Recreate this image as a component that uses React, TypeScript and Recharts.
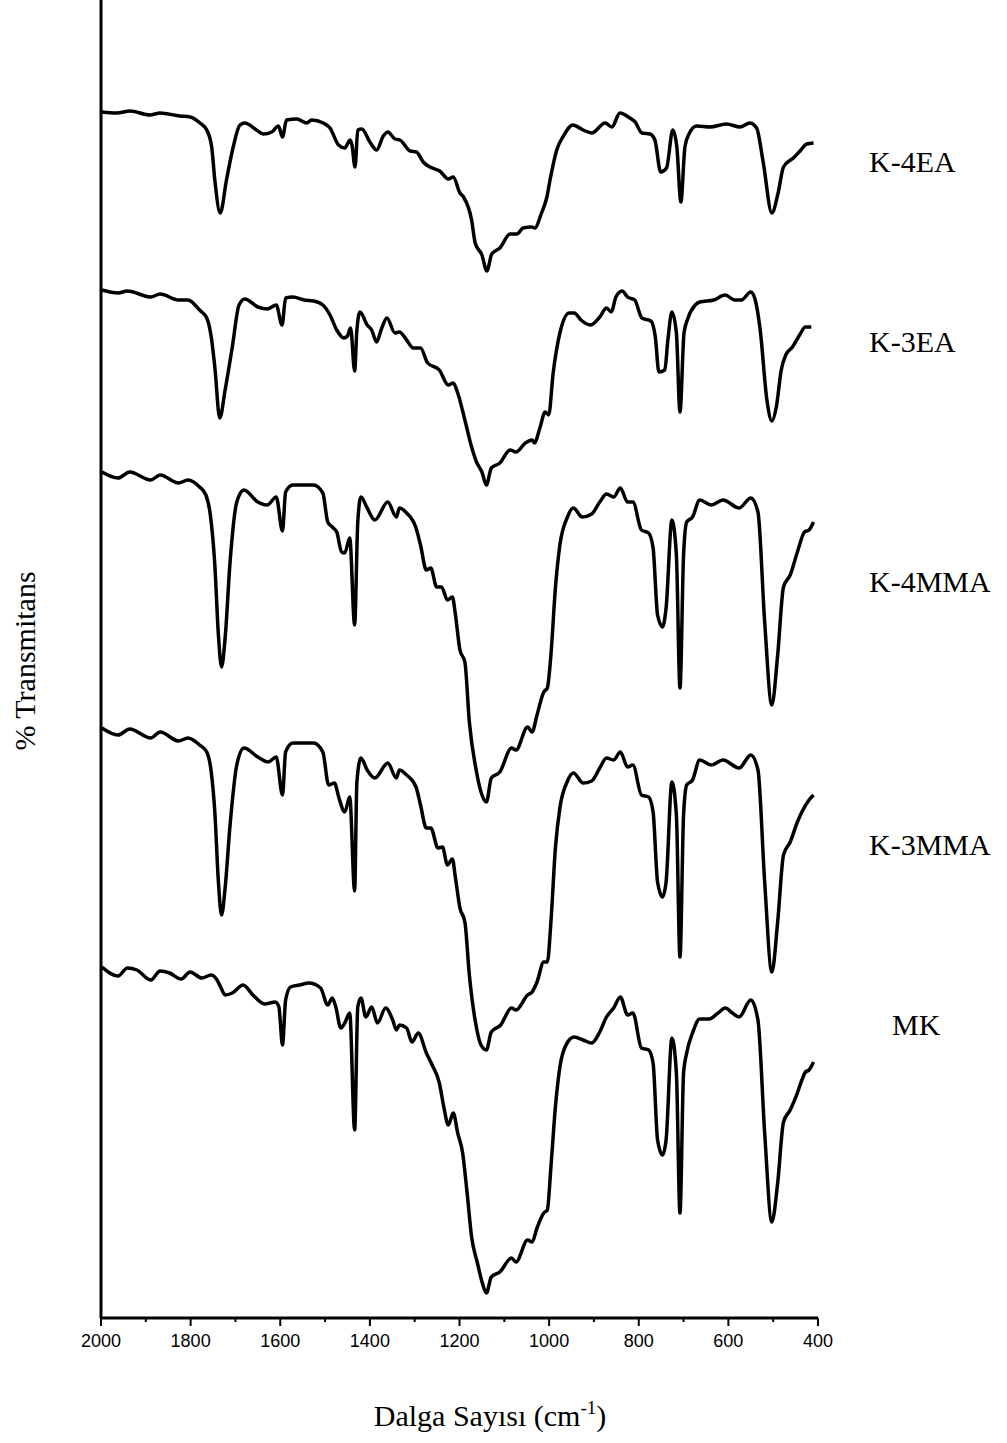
import React from 'react';
import { LineChart, Line, XAxis, YAxis } from 'recharts';

// wavenumber (cm-1) tick marks
const xTicks = [2000, 1900, 1800, 1700, 1600, 1500, 1400, 1300, 1200, 1100, 1000, 900, 800, 700, 600, 500, 400];

// [wavenumber, stacked %T (arbitrary offset units)]
const k4ea: [number, number][] = [
  [1998, 1206], [1965, 1205], [1935, 1207], [1891, 1203], [1868, 1205], [1824, 1202], [1801, 1201], [1779, 1195],
  [1764, 1188], [1753, 1171], [1746, 1138], [1734, 1105], [1720, 1138], [1705, 1171], [1690, 1193], [1679, 1195],
  [1653, 1188], [1638, 1184], [1619, 1186], [1604, 1192], [1595, 1181], [1586, 1198], [1563, 1199], [1541, 1195],
  [1530, 1198], [1504, 1195], [1489, 1190], [1470, 1173], [1456, 1170], [1444, 1178], [1440, 1173], [1433, 1151],
  [1427, 1188], [1418, 1189], [1400, 1176], [1385, 1168], [1370, 1182], [1360, 1186], [1344, 1179], [1333, 1178],
  [1310, 1167], [1296, 1166], [1281, 1156], [1266, 1151], [1244, 1147], [1225, 1139], [1214, 1141], [1199, 1125],
  [1191, 1121], [1173, 1098], [1165, 1075], [1150, 1063], [1139, 1047], [1128, 1064], [1110, 1070], [1087, 1084],
  [1072, 1084], [1058, 1090], [1039, 1091], [1032, 1090], [1017, 1105], [1005, 1121], [998, 1138], [983, 1168],
  [968, 1182], [947, 1193], [924, 1188], [905, 1185], [875, 1195], [860, 1191], [842, 1205], [820, 1200],
  [808, 1196], [793, 1185], [775, 1184], [764, 1178], [751, 1146], [738, 1150], [724, 1188], [715, 1171],
  [706, 1116], [697, 1171], [689, 1183], [671, 1192], [641, 1191], [604, 1194], [574, 1191], [552, 1195],
  [537, 1190], [522, 1155], [503, 1105], [489, 1125], [477, 1151], [455, 1160], [440, 1167], [425, 1174], [410, 1175],
];

const k3ea: [number, number][] = [
  [1998, 1028], [1962, 1025], [1941, 1027], [1889, 1021], [1868, 1024], [1827, 1018], [1806, 1018], [1780, 1008],
  [1764, 1000], [1754, 981], [1746, 951], [1735, 900], [1723, 928], [1707, 971], [1692, 1013], [1679, 1019],
  [1650, 1011], [1629, 1009], [1609, 1013], [1596, 993], [1588, 1020], [1572, 1021], [1546, 1018], [1526, 1017],
  [1505, 1013], [1489, 1003], [1474, 988], [1458, 980], [1450, 982], [1443, 990], [1434, 947], [1429, 988],
  [1422, 1006], [1406, 993], [1396, 988], [1385, 976], [1375, 988], [1362, 1000], [1344, 985], [1334, 986],
  [1318, 978], [1303, 970], [1287, 970], [1271, 955], [1245, 948], [1225, 933], [1214, 935], [1204, 925],
  [1188, 898], [1173, 871], [1162, 856], [1150, 846], [1140, 833], [1129, 850], [1110, 855], [1087, 868],
  [1074, 866], [1053, 875], [1038, 878], [1033, 875], [1020, 891], [1009, 906], [1001, 903], [991, 945],
  [976, 985], [955, 1005], [944, 1005], [929, 998], [908, 993], [887, 1001], [872, 1010], [861, 1006],
  [851, 1021], [837, 1027], [825, 1021], [809, 1018], [793, 1000], [773, 997], [763, 981], [755, 946],
  [742, 948], [735, 978], [726, 1006], [716, 985], [708, 906], [699, 985], [690, 1000], [674, 1013],
  [664, 1016], [633, 1018], [607, 1023], [586, 1018], [571, 1018], [550, 1026], [540, 1018], [529, 988],
  [514, 918], [503, 897], [493, 911], [482, 948], [472, 963], [457, 971], [441, 983], [428, 991], [415, 991],
];

const k4mma: [number, number][] = [
  [1998, 846], [1962, 840], [1936, 846], [1889, 838], [1868, 843], [1827, 835], [1806, 838], [1780, 831],
  [1766, 823], [1756, 803], [1746, 753], [1738, 683], [1731, 651], [1723, 680], [1712, 756], [1697, 816],
  [1681, 828], [1650, 816], [1629, 813], [1609, 821], [1595, 787], [1588, 826], [1572, 833], [1546, 833],
  [1526, 833], [1505, 825], [1494, 796], [1484, 791], [1474, 786], [1463, 766], [1456, 765], [1445, 780],
  [1434, 693], [1427, 796], [1420, 821], [1406, 810], [1389, 798], [1360, 816], [1341, 801], [1334, 810],
  [1318, 805], [1297, 790], [1287, 773], [1274, 748], [1264, 750], [1251, 731], [1240, 731], [1227, 718],
  [1216, 721], [1209, 703], [1199, 668], [1188, 656], [1178, 596], [1162, 546], [1152, 526], [1140, 516],
  [1129, 540], [1110, 546], [1084, 570], [1074, 568], [1048, 591], [1038, 586], [1027, 603], [1012, 626],
  [1004, 630], [996, 663], [986, 730], [976, 773], [960, 800], [946, 810], [926, 801], [905, 804],
  [887, 816], [872, 824], [856, 821], [841, 830], [825, 816], [813, 816], [794, 788], [778, 785],
  [768, 770], [758, 703], [747, 691], [739, 710], [726, 798], [716, 763], [708, 630], [700, 763],
  [693, 796], [680, 801], [664, 818], [638, 813], [612, 818], [576, 810], [550, 820], [534, 806],
  [519, 696], [503, 613], [490, 663], [477, 731], [462, 743], [446, 766], [430, 786], [420, 788], [410, 796],
];

const k3mma: [number, number][] = [
  [1998, 590], [1962, 583], [1936, 589], [1889, 580], [1868, 586], [1827, 577], [1806, 580], [1780, 573],
  [1764, 566], [1754, 546], [1746, 506], [1738, 436], [1731, 403], [1723, 430], [1712, 493], [1697, 553],
  [1681, 570], [1650, 561], [1627, 556], [1609, 561], [1595, 523], [1588, 566], [1572, 575], [1546, 575],
  [1526, 575], [1505, 566], [1492, 533], [1479, 535], [1469, 520], [1456, 506], [1445, 521], [1434, 427],
  [1429, 536], [1420, 560], [1406, 548], [1389, 540], [1360, 555], [1341, 540], [1334, 548], [1318, 543],
  [1297, 531], [1287, 513], [1274, 490], [1264, 490], [1248, 470], [1238, 471], [1227, 453], [1216, 459],
  [1209, 440], [1199, 410], [1188, 396], [1178, 343], [1162, 290], [1152, 273], [1140, 268], [1129, 286],
  [1108, 293], [1084, 310], [1074, 308], [1048, 323], [1038, 326], [1027, 336], [1012, 356], [1004, 356],
  [996, 396], [986, 470], [976, 510], [960, 536], [946, 545], [924, 535], [905, 537], [887, 550],
  [872, 560], [856, 558], [841, 566], [825, 551], [813, 553], [794, 523], [778, 521], [768, 506],
  [758, 436], [747, 421], [739, 436], [726, 536], [716, 503], [708, 361], [700, 503], [693, 533],
  [680, 538], [664, 558], [638, 553], [612, 558], [576, 550], [550, 563], [534, 548], [519, 436],
  [503, 346], [490, 396], [477, 463], [462, 476], [446, 496], [436, 506], [420, 518], [410, 523],
];

const mk: [number, number][] = [
  [1998, 351], [1962, 342], [1941, 350], [1920, 348], [1889, 338], [1868, 347], [1847, 345], [1821, 339],
  [1801, 346], [1775, 340], [1754, 343], [1741, 338], [1733, 331], [1723, 323], [1707, 325], [1683, 333],
  [1661, 323], [1635, 314], [1611, 316], [1603, 311], [1595, 273], [1588, 318], [1577, 331], [1557, 333],
  [1536, 335], [1510, 330], [1494, 313], [1484, 320], [1476, 311], [1465, 290], [1456, 295], [1445, 305],
  [1434, 188], [1427, 311], [1420, 320], [1409, 301], [1396, 311], [1383, 295], [1365, 310], [1349, 298],
  [1341, 288], [1334, 293], [1318, 290], [1306, 276], [1292, 285], [1274, 265], [1261, 253], [1245, 235],
  [1235, 211], [1225, 193], [1214, 205], [1204, 185], [1193, 165], [1183, 125], [1173, 81], [1160, 55],
  [1149, 35], [1140, 25], [1129, 41], [1110, 46], [1084, 60], [1074, 56], [1048, 78], [1038, 76],
  [1027, 90], [1012, 105], [1004, 108], [996, 151], [986, 211], [976, 251], [960, 275], [944, 281],
  [924, 278], [905, 275], [887, 286], [872, 301], [856, 310], [841, 321], [825, 303], [813, 305],
  [794, 270], [778, 268], [768, 255], [758, 178], [747, 163], [739, 178], [726, 280], [716, 245],
  [708, 105], [700, 245], [693, 265], [680, 285], [664, 299], [643, 299], [623, 305], [607, 310],
  [591, 305], [576, 301], [550, 318], [534, 298], [519, 185], [503, 96], [490, 135], [477, 196],
  [462, 208], [446, 225], [436, 238], [428, 246], [420, 248], [410, 256],
];

const seriesNames = ['K-4EA', 'K-3EA', 'K-4MMA', 'K-3MMA', 'MK'];
const seriesPoints = [k4ea, k3ea, k4mma, k3mma, mk];

const toData = (pts: [number, number][]) => pts.map(([w, t]) => ({ w, t }));

const XTick = (props: any) => {
  const { x, y, payload } = props;
  const v = payload.value as number;
  const major = v % 200 === 0;
  return (
    <g>
      <line x1={x} x2={x} y1={y} y2={y + (major ? 8 : 4)} stroke="#000" strokeWidth={2} />
      {major && (
        <text
          x={x}
          y={y + 29}
          textAnchor="middle"
          fontFamily="'Liberation Sans', Arial, sans-serif"
          fontSize={18}
          fill="#000"
        >
          {v}
        </text>
      )}
    </g>
  );
};

const serif = "'Liberation Serif', 'Times New Roman', serif";

// label placement (baseline) per series, in page pixels
const labelPos = [
  { x: 869, y: 172 },
  { x: 869, y: 352 },
  { x: 869, y: 592 },
  { x: 869, y: 855 },
  { x: 892, y: 1035 },
];

export default function App() {
  return (
    <div style={{ position: 'absolute', left: 0, top: 0, width: 1007, height: 1443, background: '#fff' }}>
      <LineChart width={1007} height={1443} margin={{ top: 0, right: 189, bottom: 0, left: 0 }}>
        <XAxis
          dataKey="w"
          type="number"
          domain={[400, 2000]}
          reversed
          ticks={xTicks}
          interval={0}
          allowDataOverflow
          height={125}
          tickSize={0}
          tickMargin={0}
          tickLine={false}
          axisLine={{ stroke: '#000', strokeWidth: 3 }}
          tick={<XTick />}
        />
        <YAxis
          type="number"
          domain={[0, 1318]}
          width={101}
          tick={false}
          tickLine={false}
          axisLine={{ stroke: '#000', strokeWidth: 3 }}
          allowDataOverflow
        />
        {seriesPoints.map((pts, i) => (
          <Line
            key={seriesNames[i]}
            name={seriesNames[i]}
            data={toData(pts)}
            dataKey="t"
            type="monotone"
            stroke="#000"
            strokeWidth={3.5}
            strokeLinejoin="round"
            dot={false}
            activeDot={false}
            isAnimationActive={false}
          />
        ))}
      </LineChart>
      <svg
        width={1007}
        height={1443}
        style={{ position: 'absolute', left: 0, top: 0, pointerEvents: 'none' }}
      >
        {seriesNames.map((n, i) => (
          <text key={n} x={labelPos[i].x} y={labelPos[i].y} fontFamily={serif} fontSize={30} fill="#000">
            {n}
          </text>
        ))}
        <text x={490} y={1426} textAnchor="middle" fontFamily={serif} fontSize={30} fill="#000">
          <tspan>Dalga Sayısı (cm</tspan>
          <tspan fontSize={19} dy={-12}>-1</tspan>
          <tspan dy={12}>)</tspan>
        </text>
        <text
          x={0}
          y={0}
          transform="translate(35 661) rotate(-90)"
          textAnchor="middle"
          fontFamily={serif}
          fontSize={30}
          fill="#000"
        >
          % Transmitans
        </text>
      </svg>
    </div>
  );
}
